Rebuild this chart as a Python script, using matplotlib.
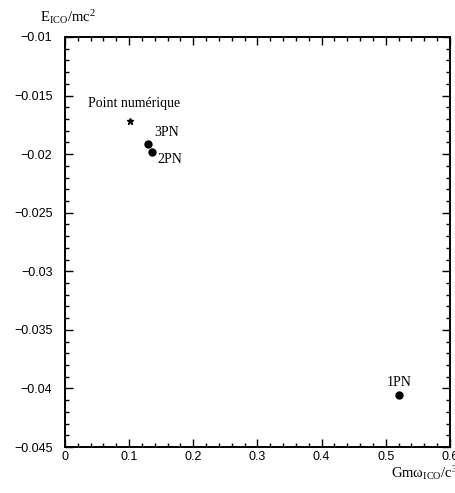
import matplotlib
matplotlib.use("Agg")
import matplotlib.pyplot as plt
from matplotlib.ticker import MultipleLocator

# ICO points
labels = ["Point numérique", "3PN", "2PN", "1PN"]
x_vals = [0.101, 0.129, 0.136, 0.521]
y_vals = [-0.0172, -0.0191, -0.0198, -0.0406]

plt.rcParams["mathtext.fontset"] = "custom"
plt.rcParams["mathtext.rm"] = "Liberation Serif"
plt.rcParams["mathtext.it"] = "Liberation Serif:italic"

fig = plt.figure(figsize=(4.56, 4.93), dpi=100)
ax = fig.add_axes([0.1425, 0.0933, 0.8443, 0.8317])

# numerical point as a star, PN points as dots
ax.plot(x_vals[0], y_vals[0], marker="*", color="black", ms=4.5, ls="none")
ax.plot(x_vals[1:], y_vals[1:], marker="o", color="black", ms=5, ls="none")

serif = dict(family="Liberation Serif", fontsize=10)
ax.annotate(labels[0], (x_vals[0], y_vals[0]), xytext=(3, 8),
            textcoords="offset points", ha="center", va="bottom", **serif)
ax.annotate(labels[1], (x_vals[1], y_vals[1]), xytext=(5, 3),
            textcoords="offset points", ha="left", va="bottom", **serif)
ax.annotate(labels[2], (x_vals[2], y_vals[2]), xytext=(4, -1),
            textcoords="offset points", ha="left", va="top", **serif)
ax.annotate(labels[3], (x_vals[3], y_vals[3]), xytext=(0, 5),
            textcoords="offset points", ha="center", va="bottom", **serif)

ax.set_xlim(0, 0.6)
ax.set_ylim(-0.045, -0.01)
ax.xaxis.set_minor_locator(MultipleLocator(0.02))
ax.yaxis.set_minor_locator(MultipleLocator(0.001))
xt = [0, 0.1, 0.2, 0.3, 0.4, 0.5, 0.6]
ax.set_xticks(xt)
ax.set_xticklabels([f"{v:g}" for v in xt])
yt = [-0.045, -0.04, -0.035, -0.03, -0.025, -0.02, -0.015, -0.01]
ax.set_yticks(yt)
ax.set_yticklabels(["\u2212" + f"{abs(v):g}" for v in yt])

ax.tick_params(which="both", direction="in", top=True, right=True,
               labelsize=9, width=1)
ax.tick_params(which="major", length=6)
ax.tick_params(axis="y", which="major", pad=9)
ax.tick_params(axis="x", which="major", pad=3)
ax.tick_params(which="minor", length=3)
for sp in ax.spines.values():
    sp.set_linewidth(1.4)
for lab in ax.get_xticklabels() + ax.get_yticklabels():
    lab.set_family("Liberation Sans")

fig.text(0.088, 0.965, r"$\mathrm{E_{ICO}/mc^2}$", fontsize=10.5, va="center")
fig.text(0.857, 0.040, r"$\mathrm{Gmω_{ICO}/c^3}$", fontsize=10.5, va="center")

fig.savefig("out.png", dpi=100)
